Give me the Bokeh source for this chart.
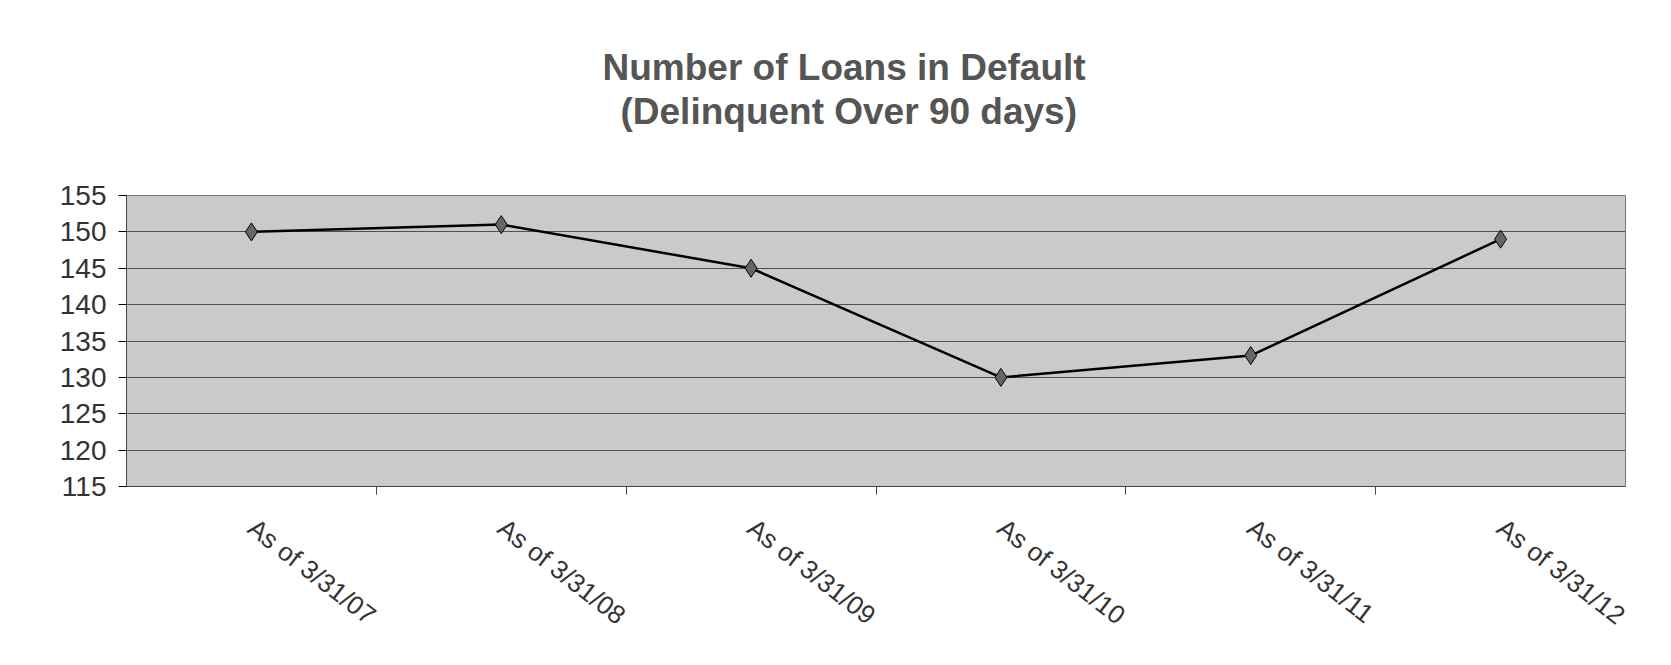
import math
from bokeh.plotting import figure
from bokeh.models import FixedTicker, Range1d, Title, ColumnDataSource
from bokeh.embed import file_html
from bokeh.resources import INLINE

categories = ["As of 3/31/07", "As of 3/31/08", "As of 3/31/09",
              "As of 3/31/10", "As of 3/31/11", "As of 3/31/12"]
loans_in_default = [150, 151, 145, 130, 133, 149]
y_ticks = [115, 120, 125, 130, 135, 140, 145, 150, 155]
title_lines = ["Number of Loans in Default", "(Delinquent Over 90 days)"]

xs = [i + 0.5 for i in range(len(categories))]
src = ColumnDataSource(dict(x=xs, y=loans_in_default, cat=categories))

p = figure(width=1650, height=645, output_backend="svg", toolbar_location=None,
           x_range=Range1d(0, len(categories)), y_range=Range1d(115, 155),
           min_border_left=126, min_border_right=25, min_border_top=195,
           min_border_bottom=157)
p.title = None
t2 = Title(text=title_lines[1], align="left", text_font="Liberation Sans",
           text_font_size="37px", text_font_style="bold", text_color="#555555",
           standoff=128, offset=494)
t1 = Title(text=title_lines[0], align="left", text_font="Liberation Sans",
           text_font_size="37px", text_font_style="bold", text_color="#555555",
           standoff=-126, offset=476)
p.add_layout(t2, "above")
p.add_layout(t1, "above")
p.styles = {"outline": "1px solid #999999", "outline-offset": "-4px"}

p.background_fill_color = "#cacaca"
p.border_fill_color = "white"
p.outline_line_color = "#777777"
p.outline_line_width = 1

p.xgrid.grid_line_color = None
p.ygrid.ticker = FixedTicker(ticks=y_ticks)
p.ygrid.grid_line_color = "#505050"
p.ygrid.grid_line_width = 1

p.yaxis.ticker = FixedTicker(ticks=y_ticks)
p.yaxis.major_label_text_font = "Liberation Sans"
p.yaxis.major_label_text_font_size = "28px"
p.yaxis.major_label_text_color = "#333333"
p.yaxis.major_tick_out = 8
p.yaxis.major_tick_in = 0
p.yaxis.minor_tick_line_color = None
p.yaxis.major_label_standoff = 12
p.yaxis.axis_line_color = "#444444"

p.xaxis.ticker = FixedTicker(ticks=xs, minor_ticks=list(range(1, len(categories))))
p.xaxis.major_label_overrides = {x: c for x, c in zip(xs, categories)}
p.xaxis.major_tick_out = 0
p.xaxis.major_tick_in = 0
p.xaxis.minor_tick_out = 8
p.xaxis.minor_tick_in = 0
p.xaxis.minor_tick_line_color = "#444444"
p.xaxis.major_label_orientation = -0.66
p.xaxis.major_label_text_font = "Liberation Sans"
p.xaxis.major_label_text_font_size = "26px"
p.xaxis.major_label_text_color = "#333333"
p.xaxis.major_label_standoff = 30
p.xaxis.axis_line_color = "#444444"

p.line("x", "y", source=src, line_color="black", line_width=2.5)
p.scatter("x", "y", source=src, marker="diamond", size=18,
          fill_color="#666666", line_color="black", line_width=1)

open("out.html", "w").write(file_html(p, INLINE))
